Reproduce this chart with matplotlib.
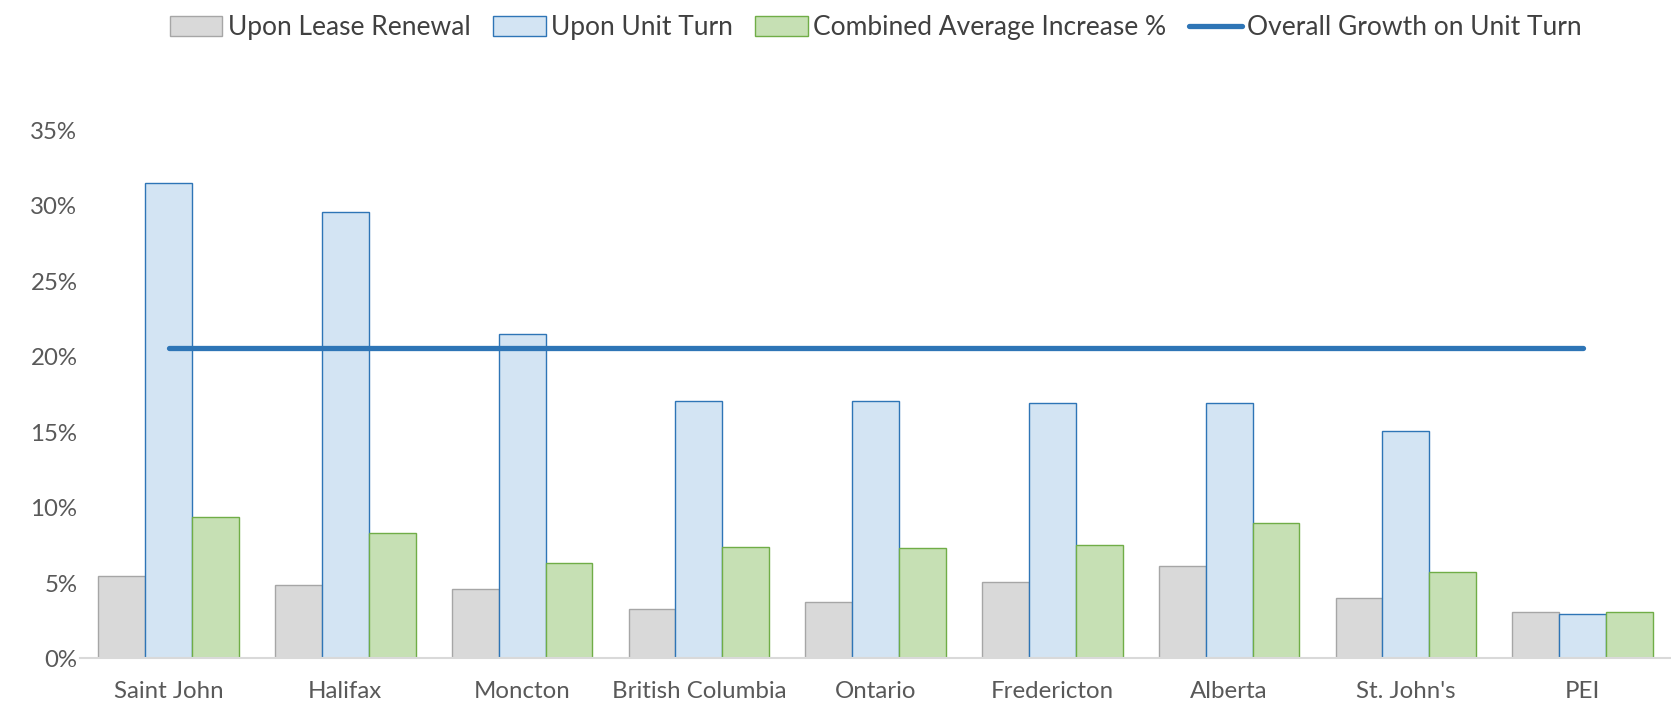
import matplotlib

matplotlib.use("Agg")
import matplotlib.pyplot as plt
import numpy as np
from matplotlib.ticker import PercentFormatter

plt.rcParams["font.family"] = ["Lato", "DejaVu Sans"]

# Data (percent)
regions = ["Saint John", "Halifax", "Moncton", "British Columbia", "Ontario",
           "Fredericton", "Alberta", "St. John's", "PEI"]
lease_renewal = [5.45, 4.9, 4.6, 3.3, 3.75, 5.1, 6.15, 4.0, 3.05]
unit_turn = [31.5, 29.6, 21.5, 17.05, 17.05, 16.95, 16.95, 15.05, 2.95]
combined_avg = [9.4, 8.35, 6.35, 7.4, 7.3, 7.5, 9.0, 5.75, 3.05]
overall_growth = 20.6

x = np.arange(len(regions))
w = 0.265

fig = plt.figure(figsize=(16.71, 7.02), dpi=100)
ax = fig.add_axes([0.048, 0.062, 0.952, 0.752])

b1 = ax.bar(x - w, lease_renewal, w, color="#d9d9d9", edgecolor="#a6a6a6", linewidth=1,
            label="Upon Lease Renewal")
b2 = ax.bar(x, unit_turn, w, color="#d3e4f3", edgecolor="#2e75b6", linewidth=1,
            label="Upon Unit Turn")
b3 = ax.bar(x + w, combined_avg, w, color="#c6e0b4", edgecolor="#70ad47", linewidth=1,
            label="Combined Average Increase %")
ln, = ax.plot(x, [overall_growth] * len(x), color="#2e75b6", linewidth=3.8,
              solid_capstyle="round", label="Overall Growth on Unit Turn")

ax.set_xlim(-0.5, len(regions) - 0.5)
ax.set_ylim(0, 35)
ax.set_yticks(np.arange(0, 36, 5))
ax.yaxis.set_major_formatter(PercentFormatter(decimals=0))
ax.set_xticks(x)
ax.set_xticklabels(regions)
ax.tick_params(axis="both", length=0, labelsize=17.3, colors="#595959")
ax.tick_params(axis="x", pad=16)
ax.tick_params(axis="y", pad=2)

for side in ["top", "right", "left"]:
    ax.spines[side].set_visible(False)
ax.spines["bottom"].set_color("#d9d9d9")
ax.spines["bottom"].set_linewidth(1.5)

fig.legend(handles=[b1, b2, b3, ln], loc="upper center", bbox_to_anchor=(0.524, 1.012),
           ncol=4, frameon=False, fontsize=19, labelcolor="#404040", handlelength=2.0,
           handleheight=0.75, handletextpad=0.2, columnspacing=0.85)

plt.savefig("out.png", dpi=100)
plt.close()
